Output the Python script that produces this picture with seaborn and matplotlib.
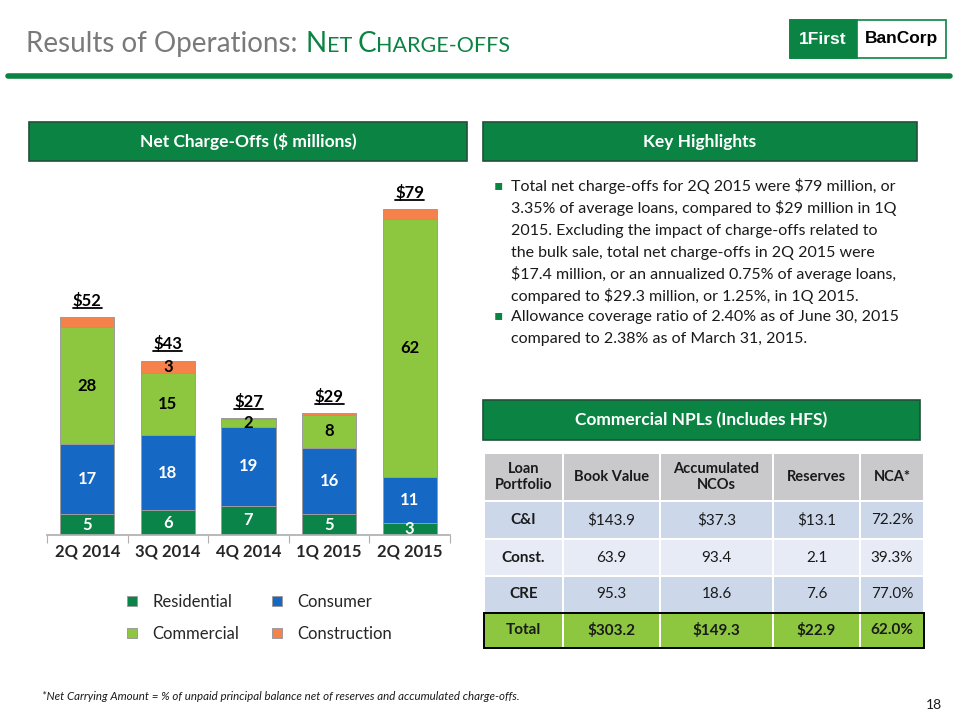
import matplotlib
matplotlib.use("Agg")
import matplotlib.pyplot as plt
import seaborn as sns
from matplotlib.patches import Rectangle
from matplotlib.lines import Line2D

# chart data ($ millions)
quarters = ["2Q 2014", "3Q 2014", "4Q 2014", "1Q 2015", "2Q 2015"]
residential = [5, 6, 7, 5, 3]
consumer = [17, 18, 19, 16, 11]
commercial = [28, 15, 2, 8, 62]
construction = [2.5, 3, 0.2, 0.3, 2.5]
construction_labels = ["", "3", "", "", ""]
total_labels = ["$52", "$43", "$27", "$29", "$79"]

# commercial NPL table
table_header = ["Loan\nPortfolio", "Book Value", "Accumulated\nNCOs", "Reserves", "NCA*"]
table_rows = [
    ["C&I", "$143.9", "$37.3", "$13.1", "72.2%"],
    ["Const.", "63.9", "93.4", "2.1", "39.3%"],
    ["CRE", "95.3", "18.6", "7.6", "77.0%"],
]
table_total = ["Total", "$303.2", "$149.3", "$22.9", "62.0%"]

GREEN = "#0b8443"
colors = {"Residential": "#0a8449", "Consumer": "#1568c4",
          "Commercial": "#8dc63f", "Construction": "#f5824a"}

sns.set_theme(style="white")
plt.rcParams["font.family"] = ["Lato", "DejaVu Sans"]
plt.rcParams["text.parse_math"] = False

W, H = 960, 720
fig = plt.figure(figsize=(W / 100, H / 100), dpi=100)


def fx(x):
    return x / W


def fy(y):
    return 1 - y / H


def box(x0, y0, x1, y1, **kw):
    r = Rectangle((fx(x0), fy(y1)), (x1 - x0) / W, (y1 - y0) / H,
                  transform=fig.transFigure, **kw)
    fig.add_artist(r)
    return r


renderer = fig.canvas.get_renderer()

# ---- title (small caps emulated) ----
x = 26
pieces = [("Results of Operations:", 20, "#7a7a7a", 8),
          ("N", 20, GREEN, 0), ("ET", 15.5, GREEN, 6),
          ("C", 20, GREEN, 0), ("HARGE-OFFS", 15.5, GREEN, 0)]
for s, size, col, gap in pieces:
    t = fig.text(fx(x), fy(52), s, fontsize=size, color=col, va="baseline")
    x += t.get_window_extent(renderer).width + gap

fig.add_artist(Line2D([fx(8), fx(950)], [fy(76), fy(76)], transform=fig.transFigure,
                      color=GREEN, lw=4))

# logo
box(790, 20, 946, 58, facecolor="white", edgecolor=GREEN, lw=1.2)
box(790, 20, 857, 58, facecolor=GREEN, edgecolor=GREEN, lw=1.2)
fig.text(fx(823), fy(39), "1First", color="white", fontsize=12.5, fontweight="bold",
         ha="center", va="center", family=["Liberation Sans Narrow", "Liberation Sans"])
fig.text(fx(901), fy(39), "BanCorp", color="black", fontsize=12.5, fontweight="bold",
         ha="center", va="center", family=["Liberation Sans Narrow", "Liberation Sans"])


def header_box(x0, y0, x1, y1, text):
    box(x0, y0, x1, y1, facecolor=GREEN, edgecolor="#23503a", lw=1.2)
    fig.text(fx((x0 + x1) / 2), fy((y0 + y1) / 2), text, ha="center", va="center",
             color="white", fontsize=12.5, fontweight="bold")


header_box(29, 122, 467, 161, "Net Charge-Offs ($ millions)")
header_box(483, 122, 917, 161, "Key Highlights")
header_box(483, 400, 920, 440, "Commercial NPLs (Includes HFS)")

# ---- stacked bar chart ----
ax = fig.add_axes([fx(47), fy(535), (450 - 47) / W, (535 - 180) / H])
bottom = [0] * len(quarters)
series = [("Residential", residential), ("Consumer", consumer),
          ("Commercial", commercial), ("Construction", construction)]
for name, vals in series:
    sns.barplot(x=quarters, y=vals, bottom=bottom, color=colors[name], saturation=1,
                width=0.67, edgecolor="#9c9c9c", linewidth=0.7, errorbar=None,
                label=name, ax=ax)
    bottom = [b + v for b, v in zip(bottom, vals)]

conts = ax.containers
ax.bar_label(conts[0], labels=[str(v) for v in residential], label_type="center",
             color="white", fontsize=12, fontweight="bold")
ax.bar_label(conts[1], labels=[str(v) for v in consumer], label_type="center",
             color="white", fontsize=12, fontweight="bold")
ax.bar_label(conts[2], labels=[str(v) for v in commercial], label_type="center",
             color="black", fontsize=12, fontweight="bold")
ax.bar_label(conts[3], labels=construction_labels, label_type="center",
             color="black", fontsize=12, fontweight="bold")
tot_texts = ax.bar_label(conts[3], labels=total_labels, padding=6,
                         color="black", fontsize=12, fontweight="bold")

ax.set_xlim(-0.5, len(quarters) - 0.5)
ax.set_ylim(0, 85.5)
ax.set_yticks([])
ax.set_xlabel("")
for side in ["left", "right", "top"]:
    ax.spines[side].set_visible(False)
ax.spines["bottom"].set_color("#b0b0b0")
ax.set_xticks(range(len(quarters)))
ax.set_xticklabels(quarters, fontsize=12, fontweight="bold")
ax.tick_params(axis="x", length=0, pad=6)
ax.set_xticks([i - 0.5 for i in range(len(quarters) + 1)], minor=True)
ax.tick_params(axis="x", which="minor", length=6, color="#b0b0b0", width=0.8,
               direction="out", bottom=True)

handles, labels = ax.get_legend_handles_labels()
order = [0, 2, 1, 3]
ax.legend([handles[i] for i in order], [labels[i] for i in order], ncol=2,
          loc="upper left", bbox_to_anchor=(fx(112), fy(579)),
          bbox_transform=fig.transFigure, frameon=False, fontsize=12,
          handlelength=0.6, handleheight=0.6, handletextpad=0.9,
          labelspacing=0.95, columnspacing=2.0)

# ---- key highlights ----
bullets = [
    (185, ["Total net charge-offs for 2Q 2015 were $79 million, or",
           "3.35% of average loans, compared to $29 million in 1Q",
           "2015. Excluding the impact of charge-offs related to",
           "the bulk sale, total net charge-offs in 2Q 2015 were",
           "$17.4 million, or an annualized 0.75% of average loans,",
           "compared to $29.3 million, or 1.25%, in 1Q 2015."]),
    (315, ["Allowance coverage ratio of 2.40% as of June 30, 2015",
           "compared to 2.38% as of March 31, 2015."]),
]
for ycen, lines in bullets:
    fig.text(fx(494), fy(ycen), "\u25aa", color=GREEN, fontsize=10,
             va="center", family="DejaVu Sans")
    for i, line in enumerate(lines):
        fig.text(fx(511), fy(ycen + 22 * i), line, fontsize=11.5, color="#1a1a1a",
                 va="center_baseline")

# ---- table ----
col_x = [484, 563, 660, 773, 860, 924]
row_y = [453, 501, 539, 576, 613, 648]
fills = ["#c9c9cb", "#cdd7ea", "#e7ebf5", "#cdd7ea", "#8dc63f"]
all_rows = [table_header] + table_rows + [table_total]
for r, row in enumerate(all_rows):
    y0, y1 = row_y[r], row_y[r + 1]
    for c, val in enumerate(row):
        x0, x1 = col_x[c], col_x[c + 1]
        box(x0 + 1, y0 + 1, x1 - 1, y1 - 1, facecolor=fills[r], edgecolor="none")
        bold = r == 0 or r == len(all_rows) - 1 or c == 0
        fig.text(fx((x0 + x1) / 2), fy((y0 + y1) / 2), val, ha="center", va="center",
                 fontsize=10.5 if r == 0 else 11, fontweight="bold" if bold else "normal",
                 color="#1a1a1a", linespacing=1.15)
box(col_x[0], row_y[-2], col_x[-1], row_y[-1], facecolor="none", edgecolor="black", lw=1.4)

# footer
fig.text(fx(42), fy(697), "*Net Carrying Amount = % of unpaid principal balance net of "
         "reserves and accumulated charge-offs.", fontsize=8.3, style="italic",
         va="center", color="#1a1a1a")
fig.text(fx(942), fy(705), "18", fontsize=10, ha="right", va="center", color="#1a1a1a")

# underline the totals
fig.canvas.draw()
for t in tot_texts:
    bb = t.get_window_extent(renderer)
    fig.add_artist(Line2D([bb.x0 / W, bb.x1 / W], [(bb.y0 + 1) / H] * 2,
                          transform=fig.transFigure, color="black", lw=1.3))

fig.savefig("out.png", dpi=100)
